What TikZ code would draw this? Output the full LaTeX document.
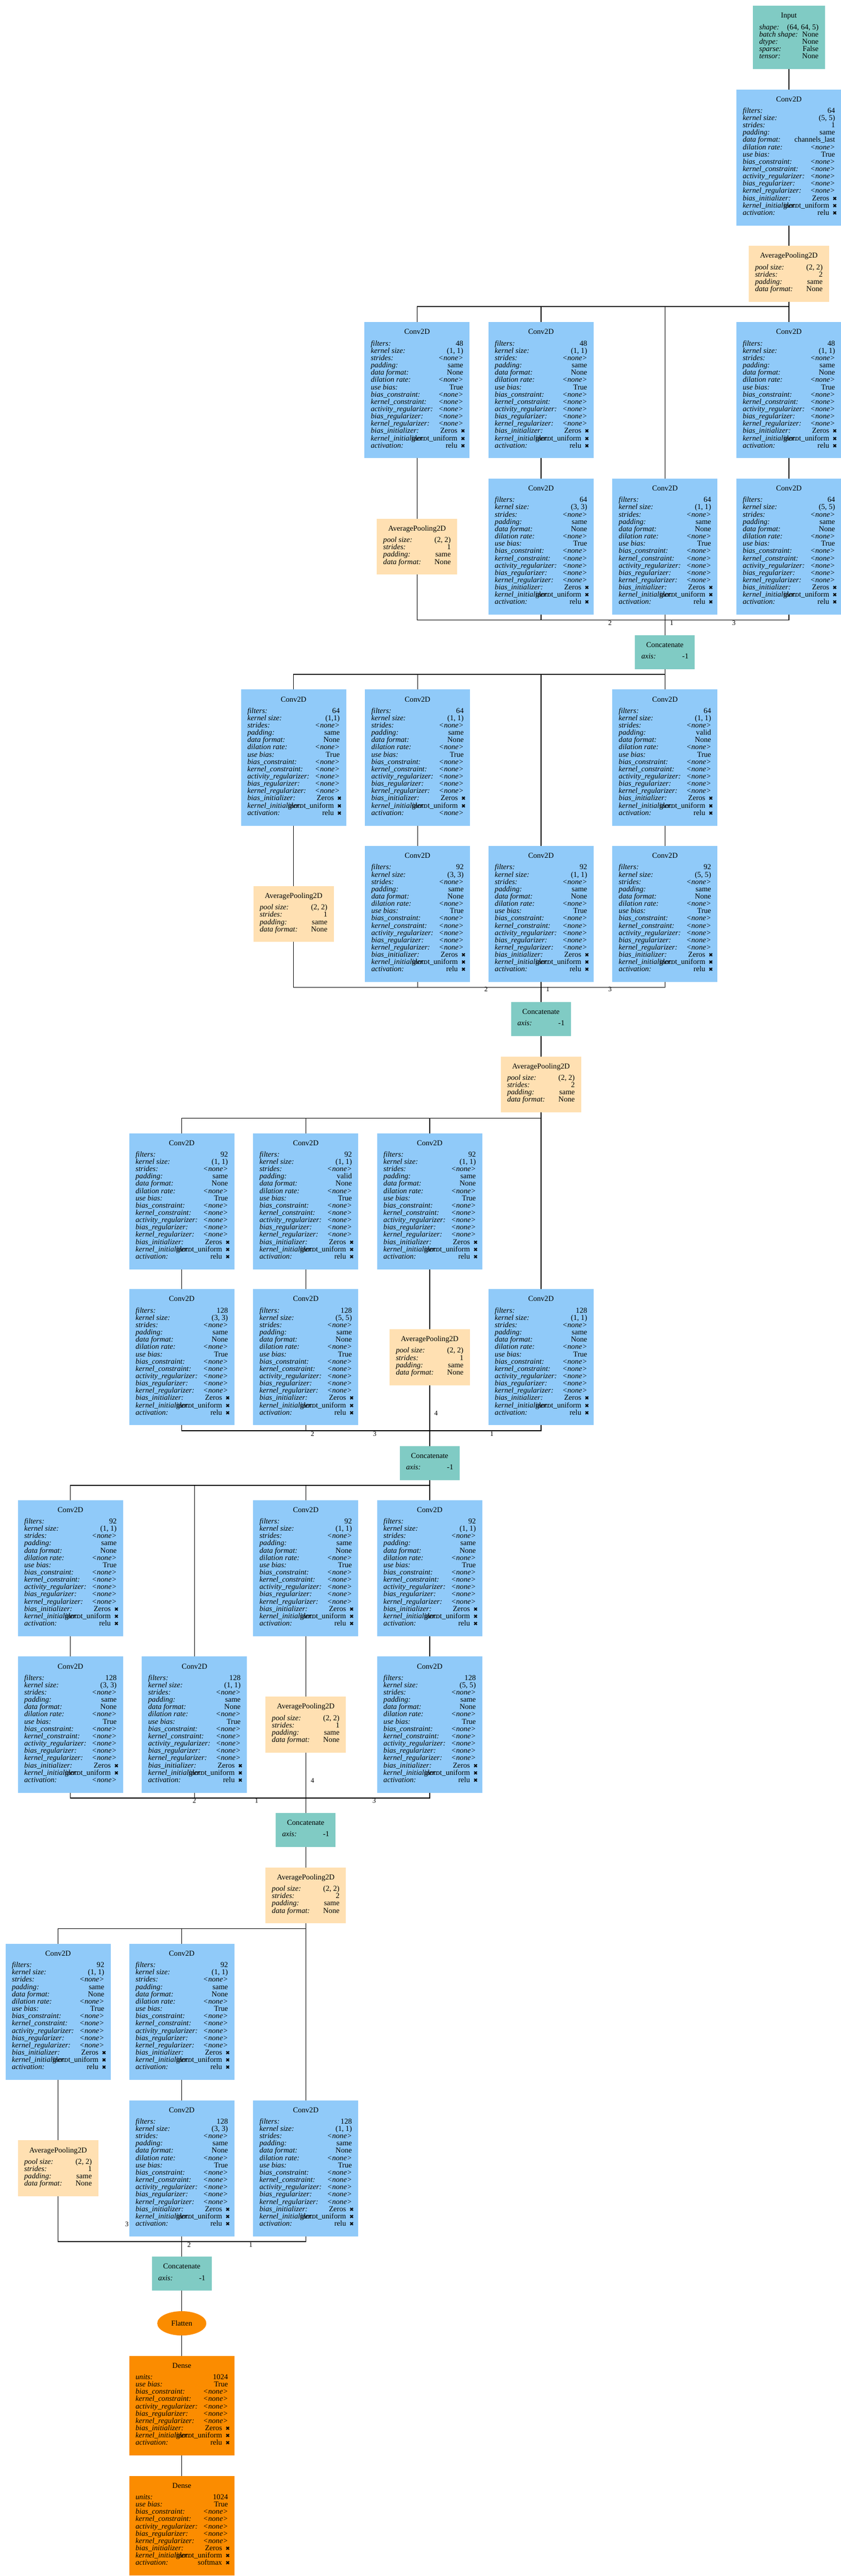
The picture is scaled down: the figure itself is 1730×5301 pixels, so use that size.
\documentclass[tikz,border=0pt]{standalone}
\usepackage{fontspec}
\setmainfont{Liberation Serif}
\newfontfamily\symfont{DejaVu Sans}
\usetikzlibrary{shapes.geometric}
\definecolor{convblue}{RGB}{144,202,249}
\definecolor{catteal}{RGB}{128,203,196}
\definecolor{poolpeach}{RGB}{255,224,178}
\definecolor{denseorange}{RGB}{251,140,0}

\newlength{\cardw}
\newcommand{\nn}{\textit{<none>}}
\newcommand{\xmark}{\hspace{7pt}\makebox[9pt]{\symfont\fontsize{11}{11}\selectfont ✖}\hspace{-4pt}}
\newcommand{\relux}{relu\xmark}
\newcommand{\kv}[2]{\hbox to\cardw{\hskip13pt\smash{\hbox to\dimexpr\cardw-26pt\relax{\rlap{\itshape #1}\hfill #2}}\hss}}
\newcommand{\card}[3]{\setlength{\cardw}{#1}\vbox{\hsize=\cardw\baselineskip=15pt\lineskip=0pt\lineskiplimit=-100pt
  \vskip25pt\hbox to\cardw{\hss\smash{#2}\hss}\vskip8.5pt #3\vskip21.5pt}}
\newcommand{\convcard}[6]{\card{216pt}{Conv2D}{\kv{filters:}{#1}\kv{kernel size:}{#2}\kv{strides:}{#3}%
  \kv{padding:}{#4}\kv{data format:}{#5}\kv{dilation rate:}{\nn}\kv{use bias:}{True}%
  \kv{bias\_constraint:}{\nn}\kv{kernel\_constraint:}{\nn}\kv{activity\_regularizer:}{\nn}%
  \kv{bias\_regularizer:}{\nn}\kv{kernel\_regularizer:}{\nn}\kv{bias\_initializer:}{Zeros\xmark}%
  \kv{kernel\_initializer:}{glorot\_uniform\xmark}\kv{activation:}{#6}}}
\newcommand{\cv}[4]{\convcard{#1}{#2}{\nn}{#3}{None}{#4}}
\newcommand{\poolcard}[1]{\card{165pt}{AveragePooling2D}{\kv{pool size:}{(2, 2)}\kv{strides:}{#1}%
  \kv{padding:}{same}\kv{data format:}{None}}}
\newcommand{\catcard}{\card{123pt}{Concatenate}{\kv{axis:}{-1}}}
\newcommand{\densecard}[1]{\card{216pt}{Dense}{\kv{units:}{1024}\kv{use bias:}{True}%
  \kv{bias\_constraint:}{\nn}\kv{kernel\_constraint:}{\nn}\kv{activity\_regularizer:}{\nn}%
  \kv{bias\_regularizer:}{\nn}\kv{kernel\_regularizer:}{\nn}\kv{bias\_initializer:}{Zeros\xmark}%
  \kv{kernel\_initializer:}{glorot\_uniform\xmark}\kv{activation:}{#1\xmark}}}

\begin{document}
\begin{tikzpicture}[x=1pt, y=-1pt,
  card/.style={rectangle, inner sep=0pt, outer sep=0pt, anchor=north, font=\fontsize{15.5}{15}\selectfont},
  convbox/.style={card, fill=convblue},
  poolbox/.style={card, fill=poolpeach},
  catbox/.style={card, fill=catteal},
  densebox/.style={card, fill=denseorange},
  flatbox/.style={ellipse, fill=denseorange, minimum width=101pt, minimum height=50pt, inner sep=0pt, font=\fontsize{15.5}{15}\selectfont},
  wire/.style={line width=1.5pt},
  lbl/.style={inner sep=0pt, font=\fontsize{14}{14}\selectfont}]
  \fill[white] (0,0) rectangle (1730,5301);
  \useasboundingbox (0,0) rectangle (1730,5301);

  \node[catbox] (input) at (1623,12) {\card{148pt}{Input}{\kv{shape:}{(64, 64, 5)}\kv{batch shape:}{None}%
    \kv{dtype:}{None}\kv{sparse:}{False}\kv{tensor:}{None}}};
  \node[convbox] (conv0) at (1623,184) {\convcard{64}{(5, 5)}{1}{same}{channels\_last}{\relux}};
  \node[poolbox] (pool0) at (1623,506) {\poolcard{2}};
  \coordinate (busA) at (0,631);

  \node[convbox] (a1) at (858,663) {\cv{48}{(1, 1)}{same}{\relux}};
  \node[convbox] (a2) at (1113,663) {\cv{48}{(1, 1)}{same}{\relux}};
  \node[convbox] (a4) at (1623,663) {\cv{48}{(1, 1)}{same}{\relux}};
  \node[poolbox] (a5) at (858,1067.5) {\poolcard{1}};
  \node[convbox] (a6) at (1113,985) {\cv{64}{(3, 3)}{same}{\relux}};
  \node[convbox] (a7) at (1368,985) {\cv{64}{(1, 1)}{same}{\relux}};
  \node[convbox] (a8) at (1623,985) {\cv{64}{(5, 5)}{same}{\relux}};
  \coordinate (busB) at (0,1276);
  \node[catbox] (cat1) at (1368,1307) {\catcard};
  \coordinate (busC) at (0,1388);

  \node[convbox] (b1) at (604,1419) {\cv{64}{(1,1)}{same}{\relux}};
  \node[convbox] (b2) at (859,1419) {\cv{64}{(1, 1)}{same}{\nn}};
  \node[convbox] (b4) at (1368,1419) {\cv{64}{(1, 1)}{valid}{\relux}};
  \node[poolbox] (b5) at (604,1823.5) {\poolcard{1}};
  \node[convbox] (b6) at (859,1741) {\cv{92}{(3, 3)}{same}{\relux}};
  \node[convbox] (b7) at (1113,1741) {\cv{92}{(1, 1)}{same}{\relux}};
  \node[convbox] (b8) at (1368,1741) {\cv{92}{(5, 5)}{same}{\relux}};
  \coordinate (busD) at (0,2032);
  \node[catbox] (cat2) at (1113,2062) {\catcard};
  \node[poolbox] (pool2) at (1113,2174) {\poolcard{2}};
  \coordinate (busE) at (0,2301);

  \node[convbox] (c1) at (374,2332) {\cv{92}{(1, 1)}{same}{\relux}};
  \node[convbox] (c2) at (629,2332) {\cv{92}{(1, 1)}{valid}{\relux}};
  \node[convbox] (c3) at (884,2332) {\cv{92}{(1, 1)}{same}{\relux}};
  \node[convbox] (c4) at (374,2653) {\cv{128}{(3, 3)}{same}{\relux}};
  \node[convbox] (c5) at (629,2653) {\cv{128}{(5, 5)}{same}{\relux}};
  \node[poolbox] (c6) at (884,2735.5) {\poolcard{1}};
  \node[convbox] (c7) at (1113,2653) {\cv{128}{(1, 1)}{same}{\relux}};
  \coordinate (busF) at (0,2944);
  \node[catbox] (cat3) at (884,2976) {\catcard};
  \coordinate (busG) at (0,3056.5);

  \node[convbox] (d1) at (145,3087) {\cv{92}{(1, 1)}{same}{\relux}};
  \node[convbox] (d3) at (629,3087) {\cv{92}{(1, 1)}{same}{\relux}};
  \node[convbox] (d4) at (884,3087) {\cv{92}{(1, 1)}{same}{\relux}};
  \node[convbox] (d5) at (145,3409) {\cv{128}{(3, 3)}{same}{\nn}};
  \node[convbox] (d6) at (400,3409) {\cv{128}{(1, 1)}{same}{\relux}};
  \node[poolbox] (d7) at (629,3491.5) {\poolcard{1}};
  \node[convbox] (d8) at (884,3409) {\cv{128}{(5, 5)}{same}{\relux}};
  \coordinate (busH) at (0,3700);
  \node[catbox] (cat4) at (629,3731) {\catcard};
  \node[poolbox] (pool4) at (629,3843) {\poolcard{2}};
  \coordinate (busI) at (0,3969);

  \node[convbox] (e1) at (119.5,4000) {\cv{92}{(1, 1)}{same}{\relux}};
  \node[convbox] (e2) at (374,4000) {\cv{92}{(1, 1)}{same}{\relux}};
  \node[poolbox] (e4) at (119.5,4404.5) {\poolcard{1}};
  \node[convbox] (e5) at (374,4322) {\cv{128}{(3, 3)}{same}{\relux}};
  \node[convbox] (e6) at (629,4322) {\cv{128}{(1, 1)}{same}{\relux}};
  \coordinate (busJ) at (0,4613);
  \node[catbox] (cat5) at (374,4644) {\catcard};
  \node[flatbox] (flat) at (374,4781) {Flatten};
  \node[densebox] (dense1) at (374,4848) {\densecard{relu}};
  \node[densebox] (dense2) at (374,5095) {\densecard{softmax}};

  \draw[wire] (input.south) -- (conv0.north);
  \draw[wire] (conv0.south) -- (pool0.north);
  \foreach \n in {a1,a2,a7,a4}
    \draw[wire] (pool0.south) -- (pool0.south |- busA) -| (\n.north);
  \foreach \u/\v in {a1/a5,a2/a6,a4/a8}
    \draw[wire] (\u.south) -- (\v.north);
  \foreach \n in {a5,a6,a7,a8}
    \draw[wire] (\n.south) -- (\n.south |- busB) -| (cat1.north);
  \foreach \n in {b1,b2,b7,b4}
    \draw[wire] (cat1.south) -- (cat1.south |- busC) -| (\n.north);
  \foreach \u/\v in {b1/b5,b2/b6,b4/b8}
    \draw[wire] (\u.south) -- (\v.north);
  \foreach \n in {b5,b6,b7,b8}
    \draw[wire] (\n.south) -- (\n.south |- busD) -| (cat2.north);
  \draw[wire] (cat2.south) -- (pool2.north);
  \foreach \n in {c1,c2,c3,c7}
    \draw[wire] (pool2.south) -- (pool2.south |- busE) -| (\n.north);
  \foreach \u/\v in {c1/c4,c2/c5,c3/c6}
    \draw[wire] (\u.south) -- (\v.north);
  \foreach \n in {c4,c5,c6,c7}
    \draw[wire] (\n.south) -- (\n.south |- busF) -| (cat3.north);
  \foreach \n in {d1,d6,d3,d4}
    \draw[wire] (cat3.south) -- (cat3.south |- busG) -| (\n.north);
  \foreach \u/\v in {d1/d5,d3/d7,d4/d8}
    \draw[wire] (\u.south) -- (\v.north);
  \foreach \n in {d5,d6,d7,d8}
    \draw[wire] (\n.south) -- (\n.south |- busH) -| (cat4.north);
  \draw[wire] (cat4.south) -- (pool4.north);
  \foreach \n in {e1,e2,e6}
    \draw[wire] (pool4.south) -- (pool4.south |- busI) -| (\n.north);
  \foreach \u/\v in {e1/e4,e2/e5}
    \draw[wire] (\u.south) -- (\v.north);
  \foreach \n in {e4,e5,e6}
    \draw[wire] (\n.south) -- (\n.south |- busJ) -| (cat5.north);
  \draw[wire] (cat5.south) -- (flat.north);
  \draw[wire] (flat.south) -- (dense1.north);
  \draw[wire] (dense1.south) -- (dense2.north);

  \node[lbl] (la2) at (1255,1282) {2};
  \node[lbl] (la1) at (1382,1282) {1};
  \node[lbl] (la3) at (1510,1282) {3};
  \node[lbl] (lb2) at (1000,2036) {2};
  \node[lbl] (lb1) at (1127,2036) {1};
  \node[lbl] (lb3) at (1255,2036) {3};
  \node[lbl] (lc2) at (643,2951) {2};
  \node[lbl] (lc3) at (771,2951) {3};
  \node[lbl] (lc1) at (1012,2951) {1};
  \node[lbl] (lc4) at (897,2908) {4};
  \node[lbl] (ld2) at (400,3706) {2};
  \node[lbl] (ld1) at (528,3706) {1};
  \node[lbl] (ld3) at (770,3706) {3};
  \node[lbl] (ld4) at (643,3664) {4};
  \node[lbl] (le3) at (261,4577) {3};
  \node[lbl] (le2) at (389,4619) {2};
  \node[lbl] (le1) at (516,4619) {1};
\end{tikzpicture}
\end{document}
